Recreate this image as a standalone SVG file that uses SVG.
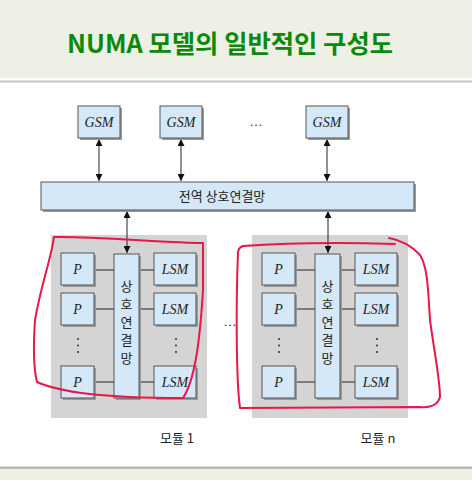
<svg xmlns="http://www.w3.org/2000/svg" width="472" height="480" viewBox="0 0 472 480">
<defs>
<style>
.box{fill:#d5e8f7;stroke:#555;stroke-width:1}
.sh{fill:#9a9a9a}
.mod{fill:#d4d4d4}
.lbl{font-family:"Liberation Serif",serif;font-style:italic;font-size:14px;fill:#222;text-anchor:middle}
.ko{font-family:"Noto Sans CJK KR","Noto Sans",sans-serif;font-size:13px;fill:#222;text-anchor:middle}
.vt{font-family:"Noto Sans CJK KR","Noto Sans",sans-serif;font-size:13px;fill:#222;text-anchor:middle}
.ln{stroke:#222;stroke-width:1;fill:none}
.dot{fill:#222}
.red{fill:none;stroke:#e8174a;stroke-width:2;stroke-linecap:round;stroke-linejoin:round}
</style>
<marker id="ah" viewBox="0 0 10 10" refX="10" refY="5" markerWidth="7" markerHeight="7" markerUnits="userSpaceOnUse" orient="auto-start-reverse">
<path d="M0,0 L10,5 L0,10 Z" fill="#111"/>
</marker>
</defs>
<rect x="0" y="0" width="472" height="78" fill="#eef0e5"/>
<rect x="0" y="80.5" width="472" height="2" fill="#c4c4c4"/>
<rect x="0" y="466.5" width="472" height="2.5" fill="#b8b8b8"/>
<rect x="0" y="469" width="472" height="11" fill="#eef0e5"/>
<text x="230" y="53" font-family="'Noto Sans CJK KR',sans-serif" font-weight="bold" font-size="25" fill="#0a8a0a" text-anchor="middle" textLength="326" lengthAdjust="spacingAndGlyphs">NUMA 모델의 일반적인 구성도</text>

<g id="module1-bg"><rect class="mod" x="51" y="235" width="156" height="183"/></g>
<g id="modulen-bg"><rect class="mod" x="252" y="235" width="156" height="183"/></g>

<g id="connectors">
<line class="ln" x1="99" y1="139" x2="99" y2="181" marker-start="url(#ah)" marker-end="url(#ah)"/>
<line class="ln" x1="181" y1="139" x2="181" y2="181" marker-start="url(#ah)" marker-end="url(#ah)"/>
<line class="ln" x1="327" y1="139" x2="327" y2="181" marker-start="url(#ah)" marker-end="url(#ah)"/>
<line class="ln" x1="127" y1="211" x2="127" y2="253" marker-start="url(#ah)" marker-end="url(#ah)"/>
<line class="ln" x1="328" y1="211" x2="328" y2="253" marker-start="url(#ah)" marker-end="url(#ah)"/>
<path class="ln" d="M94,270H114M139,270H154M94,309H114M139,309H154M94,382H114M139,382H154"/>
<path class="ln" d="M295,270H315M340,270H355M295,309H315M340,309H355M295,382H315M340,382H355"/>
</g>

<g id="gsm1"><rect class="sh" x="80" y="108" width="42" height="32"/><rect class="box" x="78" y="106" width="42" height="32"/><text class="lbl" x="99" y="127">GSM</text></g>
<g id="gsm2"><rect class="sh" x="162" y="108" width="42" height="32"/><rect class="box" x="160" y="106" width="42" height="32"/><text class="lbl" x="181" y="127">GSM</text></g>
<g id="gsm3"><rect class="sh" x="308" y="108" width="42" height="32"/><rect class="box" x="306" y="106" width="42" height="32"/><text class="lbl" x="327" y="127">GSM</text></g>
<text x="256" y="126" font-family="'Liberation Serif',serif" font-size="13" fill="#222" text-anchor="middle">…</text>

<g id="global-net"><rect class="sh" x="43" y="184" width="373" height="28"/><rect class="box" x="41" y="182" width="373" height="28"/><text class="ko" x="222" y="201" font-size="14">전역 상호연결망</text></g>

<g id="module1">
<rect class="sh" x="63" y="255" width="33" height="32"/><rect class="box" x="61" y="253" width="33" height="32"/><text class="lbl" x="77.5" y="274">P</text>
<rect class="sh" x="63" y="295" width="33" height="32"/><rect class="box" x="61" y="293" width="33" height="32"/><text class="lbl" x="77.5" y="314">P</text>
<rect class="sh" x="63" y="368" width="33" height="32"/><rect class="box" x="61" y="366" width="33" height="32"/><text class="lbl" x="77.5" y="387">P</text>
<rect class="sh" x="116" y="256" width="25" height="144"/><rect class="box" x="114" y="254" width="25" height="144"/>
<text class="vt" x="126.5" y="291">상</text><text class="vt" x="126.5" y="309">호</text><text class="vt" x="126.5" y="327">연</text><text class="vt" x="126.5" y="345">결</text><text class="vt" x="126.5" y="363">망</text>
<rect class="sh" x="156" y="255" width="42" height="32"/><rect class="box" x="154" y="253" width="42" height="32"/><text class="lbl" x="175" y="274">LSM</text>
<rect class="sh" x="156" y="295" width="42" height="32"/><rect class="box" x="154" y="293" width="42" height="32"/><text class="lbl" x="175" y="314">LSM</text>
<rect class="sh" x="156" y="368" width="42" height="32"/><rect class="box" x="154" y="366" width="42" height="32"/><text class="lbl" x="175" y="387">LSM</text>
<circle class="dot" cx="78" cy="339" r="0.9"/><circle class="dot" cx="78" cy="345.5" r="0.9"/><circle class="dot" cx="78" cy="352" r="0.9"/>
<circle class="dot" cx="176" cy="339" r="0.9"/><circle class="dot" cx="176" cy="345.5" r="0.9"/><circle class="dot" cx="176" cy="352" r="0.9"/>
<text class="ko" x="177" y="443" font-size="12">모듈 1</text>
</g>

<text x="230" y="326" font-family="'Liberation Serif',serif" font-size="13" fill="#222" text-anchor="middle">…</text>

<g id="modulen">
<rect class="sh" x="264" y="255" width="33" height="32"/><rect class="box" x="262" y="253" width="33" height="32"/><text class="lbl" x="278.5" y="274">P</text>
<rect class="sh" x="264" y="295" width="33" height="32"/><rect class="box" x="262" y="293" width="33" height="32"/><text class="lbl" x="278.5" y="314">P</text>
<rect class="sh" x="264" y="368" width="33" height="32"/><rect class="box" x="262" y="366" width="33" height="32"/><text class="lbl" x="278.5" y="387">P</text>
<rect class="sh" x="317" y="256" width="25" height="144"/><rect class="box" x="315" y="254" width="25" height="144"/>
<text class="vt" x="327.5" y="291">상</text><text class="vt" x="327.5" y="309">호</text><text class="vt" x="327.5" y="327">연</text><text class="vt" x="327.5" y="345">결</text><text class="vt" x="327.5" y="363">망</text>
<rect class="sh" x="357" y="255" width="42" height="32"/><rect class="box" x="355" y="253" width="42" height="32"/><text class="lbl" x="376" y="274">LSM</text>
<rect class="sh" x="357" y="295" width="42" height="32"/><rect class="box" x="355" y="293" width="42" height="32"/><text class="lbl" x="376" y="314">LSM</text>
<rect class="sh" x="357" y="368" width="42" height="32"/><rect class="box" x="355" y="366" width="42" height="32"/><text class="lbl" x="376" y="387">LSM</text>
<circle class="dot" cx="279" cy="339" r="0.9"/><circle class="dot" cx="279" cy="345.5" r="0.9"/><circle class="dot" cx="279" cy="352" r="0.9"/>
<circle class="dot" cx="377" cy="339" r="0.9"/><circle class="dot" cx="377" cy="345.5" r="0.9"/><circle class="dot" cx="377" cy="352" r="0.9"/>
<text class="ko" x="378" y="443" font-size="12">모듈 n</text>
</g>

<g id="annotations">
<path class="red" d="M54,237 C51,260 42,280 35,320 C33,350 34,370 37,382 C60,392 100,398 183,398 C195,380 200,340 203,290 L203,243 C170,243 90,236 54,237"/>
<path class="red" d="M243,246 C300,242 360,243 395,244"/>
<path class="red" d="M389,238 C400,240 410,244 420,255 C428,268 428,290 430,320 C434,350 440,380 440,397 C438,405 430,408 420,407 L240,408 C236,380 236,300 238,253 C238,250 240,247 243,246"/>
</g>
</svg>
